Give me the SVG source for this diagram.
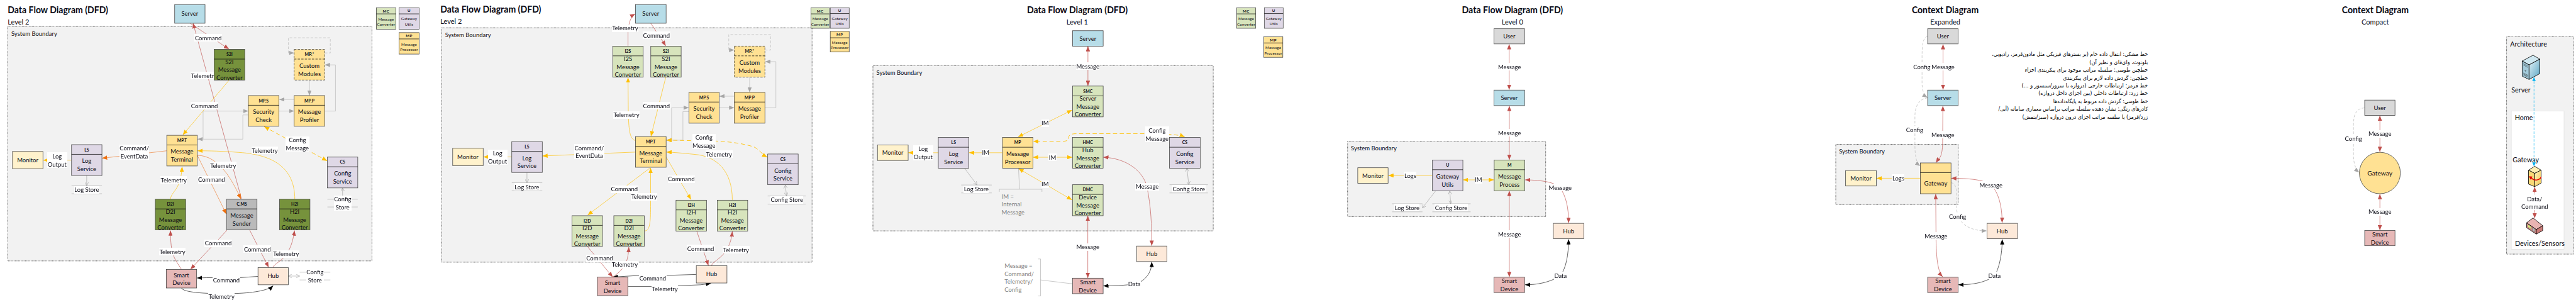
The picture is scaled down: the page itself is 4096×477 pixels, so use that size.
<svg xmlns="http://www.w3.org/2000/svg" width="4096" height="477" viewBox="0 0 4096 477">
<style>
text{font-family:"Lato","Noto Sans",sans-serif;fill:#0a0a14}
.t,.l,.hd,.sm,.smh{text-anchor:middle;dominant-baseline:central}
.t,.l,.n{font-size:18.5px}
.n{dominant-baseline:central}
.hd{font-size:13.5px;font-weight:700}
.sm{font-size:12px;letter-spacing:.4px}
.smh{font-size:12px;font-weight:700;letter-spacing:1px}
.ttl{font-size:30px;font-weight:700;dominant-baseline:central}
.lvl{font-size:21.5px;dominant-baseline:central}
.sb{font-size:18.5px;dominant-baseline:central}
.note{font-size:18.5px;dominant-baseline:central;fill:#7f7f7f}
.bnd{fill:#f2f2f2;stroke:#333;stroke-width:1.6;stroke-dasharray:2.2 2.2}
.b{stroke:#404040;stroke-width:1.5}
.h{stroke:#111;stroke-width:1.5}
.fa{fill:#b7dde8}.fg{fill:#76923c}.fc{fill:#d7e4bc}.fp{fill:#ffe193}.fu{fill:#dfd8e6}.fm{fill:#fff2cc}.fs{fill:#e6b8b7}.fh{fill:#fde9d9}.fq{fill:#bababa}.fd{fill:#d9d9d9}
.st{stroke:#a6a6a6;stroke-width:1.2;fill:none}
.c{fill:none;stroke-width:1.3}
.r{stroke:#c0504d;marker-end:url(#ar)}
.rr{stroke:#c0504d;marker-start:url(#ar);marker-end:url(#ar)}
.rn{stroke:#c0504d}
.y{stroke:#ffc000;marker-end:url(#ay)}
.yy{stroke:#ffc000;marker-start:url(#ay);marker-end:url(#ay)}
.yd{stroke:#ffc000;stroke-dasharray:13 8;stroke-width:1.7;marker-start:url(#ay);marker-end:url(#ay)}
.o{stroke:#ed7d31;marker-end:url(#ao)}
.g{stroke:#bfbfbf;stroke-width:1.5;marker-end:url(#ag)}
.gd{stroke:#bfbfbf;stroke-width:1.5;stroke-dasharray:8 5;marker-end:url(#ag)}
.k{stroke:#111;marker-end:url(#ak)}
.kk{stroke:#111;marker-start:url(#ak);marker-end:url(#ak)}
.s{stroke:#8c8c8c;stroke-width:1;marker-end:url(#av)}
.ss{stroke:#8c8c8c;stroke-width:1;marker-start:url(#av);marker-end:url(#av)}
.br{fill:none;stroke:#a6a6a6;stroke-width:1.2}
.fa2{font-family:"DejaVu Sans",sans-serif;font-size:17px;direction:rtl;text-anchor:start;dominant-baseline:central;fill:#000}
.ic{stroke:#000;stroke-width:1.6;stroke-linejoin:round}
</style>
<defs>
<filter id="w" x="0" y="0" width="1" height="1" color-interpolation-filters="sRGB"><feFlood flood-color="#fff"/><feComposite in="SourceGraphic"/></filter>
<marker id="ar" markerUnits="userSpaceOnUse" markerWidth="17" markerHeight="13" refX="16" refY="6.5" orient="auto-start-reverse"><path d="M0,0L16,6.5L0,13z" fill="#c0504d"/></marker>
<marker id="ay" markerUnits="userSpaceOnUse" markerWidth="17" markerHeight="13" refX="16" refY="6.5" orient="auto-start-reverse"><path d="M0,0L16,6.5L0,13z" fill="#ffc000"/></marker>
<marker id="ao" markerUnits="userSpaceOnUse" markerWidth="17" markerHeight="13" refX="16" refY="6.5" orient="auto-start-reverse"><path d="M0,0L16,6.5L0,13z" fill="#ed7010"/></marker>
<marker id="ag" markerUnits="userSpaceOnUse" markerWidth="17" markerHeight="13" refX="16" refY="6.5" orient="auto-start-reverse"><path d="M0,0L16,6.5L0,13z" fill="#a6a6a6"/></marker>
<marker id="ak" markerUnits="userSpaceOnUse" markerWidth="17" markerHeight="13" refX="16" refY="6.5" orient="auto-start-reverse"><path d="M0,0L16,6.5L0,13z" fill="#000"/></marker>
<marker id="ab" markerUnits="userSpaceOnUse" markerWidth="13" markerHeight="11" refX="12" refY="5.5" orient="auto-start-reverse"><path d="M0,0L12,5.5L0,11z" fill="#00b0f0"/></marker>
<marker id="av" markerUnits="userSpaceOnUse" markerWidth="12" markerHeight="12" refX="11" refY="6" orient="auto-start-reverse"><path d="M0,0L11,6L0,12" fill="none" stroke="#8c8c8c"/></marker>
<linearGradient id="gs" x1="0" y1="0" x2="1" y2="1"><stop offset="0" stop-color="#e4f2f7"/><stop offset="1" stop-color="#5aa6c4"/></linearGradient>
<linearGradient id="gy" x1="0" y1="0" x2="1" y2="1"><stop offset="0" stop-color="#fff3c0"/><stop offset="1" stop-color="#f4c94e"/></linearGradient>
</defs>
<rect width="4096" height="477" fill="#fff"/>
<g transform="scale(0.51341)">

<!-- ============ LEVEL 2 (A) ============ -->
<g id="a-frame">
<text class="ttl" x="24" y="29" textLength="311" lengthAdjust="spacingAndGlyphs">Data Flow Diagram (DFD)</text>
<text class="lvl" x="24" y="67">Level 2</text>
<rect class="bnd" x="24" y="82" width="1128" height="726"/>
<text class="sb" x="35" y="104">System Boundary</text>
</g>
<g id="a-connectors">
<path class="c rn" d="M598,72L748,616" marker-start="url(#ar)"/>
<path class="c r" d="M589,72L709,152"/>
<path class="c y" d="M709,249L566,418"/>
<path class="c g" d="M611,431H629V344H769"/>
<path class="c g" d="M769,356H752V431H612"/>
<path class="c g" d="M911,308H865"/>
<path class="c g" d="M864,344H911"/>
<path class="c g" d="M1006,344H1039V201H1006"/>
<path class="c g" d="M958.5,248V296"/>
<path class="c gd" d="M1006,164H1023V117H893V164H911"/>
<path class="c yd" d="M818,392L1013,498"/>
<path class="c y" d="M913,617C913,530 860,480 740,472C690,468 650,467 612,467"/>
<path class="c o" d="M611,481C680,482 720,560 746,616"/>
<path class="c o" d="M611,481L701,663"/>
<path class="c o" d="M516,467L316,490"/>
<path class="c y" d="M221,496H134"/>
<path class="s" d="M268.5,543V575"/>
<path class="c y" d="M528,616C532,590 560,590 564,516"/>
<path class="c r" d="M562,834C540,800 528,790 528,714"/>
<path class="c r" d="M703,713L590,834"/>
<path class="c r" d="M773.5,713L832,828"/>
<path class="c r" d="M846,828C850,810 900,810 912,714"/>
<path class="c k" d="M799,856L740,860H640L610,861"/>
<path class="c k" d="M562,892C570,910 680,910 720,909C780,908 830,900 846,885"/>
<path class="ss" d="M893,855H928"/>
<path class="ss" d="M1061,582V617"/>
<text class="l" filter="url(#w)" x="645" y="117">Command</text>
<text class="l" filter="url(#w)" x="632" y="234">Telemetry</text>
<text class="l" filter="url(#w)" x="633" y="328">Command</text>
<text class="l" filter="url(#w)" x="921" y="434">Config<tspan x="921" dy="24">Message</tspan></text>
<text class="l" filter="url(#w)" x="820" y="466">Telemetry</text>
<text class="l" filter="url(#w)" x="691" y="513">Telemetry</text>
<text class="l" filter="url(#w)" x="655" y="557">Command</text>
<text class="l" filter="url(#w)" x="416" y="459.5">Command/<tspan x="416" dy="24">EventData</tspan></text>
<text class="l" filter="url(#w)" x="177" y="483.5">Log<tspan x="177" dy="24">Output</tspan></text>
<text class="l" filter="url(#w)" x="538" y="558">Telemetry</text>
<text class="l" filter="url(#w)" x="534" y="780">Telemetry</text>
<text class="l" filter="url(#w)" x="676" y="753">Command</text>
<text class="l" filter="url(#w)" x="797" y="772">Command</text>
<text class="l" filter="url(#w)" x="886" y="786">Telemetry</text>
<text class="l" filter="url(#w)" x="701" y="867">Command</text>
<text class="l" filter="url(#w)" x="686" y="918">Telemetry</text>
</g>
<g id="a-server"><rect class="b fa" x="541" y="14" width="94" height="58"/><text class="t" x="588" y="42">Server</text></g>
<g id="a-s2i"><rect class="b fg" x="663.4" y="153" width="94.6" height="95"/><line class="h" x1="663.4" y1="183" x2="758" y2="183"/><text class="hd" x="710.7" y="167">S2I</text><text class="t" x="710.7" y="191">S2I<tspan x="710.7" dy="24">Message</tspan><tspan x="710.7" dy="24">Converter</tspan></text></g>
<g id="a-mpx"><rect class="b fp" x="911" y="153" width="94.6" height="95" stroke-dasharray="7 4"/><line class="h" x1="911" y1="183" x2="1005.6" y2="183" stroke-dasharray="7 4"/><text class="hd" x="958.3" y="167">MP.*</text><text class="t" x="958.3" y="203">Custom<tspan x="958.3" dy="24">Modules</tspan></text></g>
<g id="a-mps"><rect class="b fp" x="769" y="296" width="95" height="95"/><line class="h" x1="769" y1="326" x2="864" y2="326"/><text class="hd" x="816.5" y="311">MP.S</text><text class="t" x="816.5" y="346.5">Security<tspan x="816.5" dy="24">Check</tspan></text></g>
<g id="a-mpp"><rect class="b fp" x="911" y="296" width="94.6" height="95"/><line class="h" x1="911" y1="326" x2="1005.6" y2="326"/><text class="hd" x="958.3" y="311">MP.P</text><text class="t" x="958.3" y="346.5">Message<tspan x="958.3" dy="24">Profiler</tspan></text></g>
<g id="a-mpt"><rect class="b fp" x="516.5" y="419" width="94.5" height="95"/><line class="h" x1="516.5" y1="449" x2="611" y2="449"/><text class="hd" x="563.7" y="434">MP.T</text><text class="t" x="563.7" y="468.5">Message<tspan x="563.7" dy="24">Terminal</tspan></text></g>
<g id="a-ls"><rect class="b fu" x="221.6" y="448" width="94.1" height="95.5"/><line class="h" x1="221.6" y1="478" x2="315.7" y2="478"/><text class="hd" x="268.6" y="463">LS</text><text class="t" x="268.6" y="498.5">Log<tspan x="268.6" dy="24">Service</tspan></text></g>
<g id="a-monitor"><rect class="b fm" x="38.6" y="469" width="94.4" height="53.5"/><text class="t" x="85.8" y="495.5">Monitor</text></g>
<g id="a-logstore"><path class="st" d="M221.6,575H315.7M221.6,600H315.7"/><text class="l" filter="url(#w)" x="268.6" y="588">Log Store</text></g>
<g id="a-d2i"><rect class="b fg" x="481" y="617" width="94" height="95"/><line class="h" x1="481" y1="647" x2="575" y2="647"/><text class="hd" x="528" y="632">D2I</text><text class="t" x="528" y="655">D2I<tspan x="528" dy="24">Message</tspan><tspan x="528" dy="24">Converter</tspan></text></g>
<g id="a-smart"><rect class="b fs" x="515" y="834.5" width="94" height="57.5"/><text class="t" x="562" y="851.5">Smart<tspan x="562" dy="24">Device</tspan></text></g>
<g id="a-cms"><rect class="b fq" x="701.6" y="617" width="94.4" height="95"/><line class="h" x1="701.6" y1="647" x2="796" y2="647"/><text class="hd" x="748.8" y="632">C.MS</text><text class="t" x="748.8" y="667">Message<tspan x="748.8" dy="24">Sender</tspan></text></g>
<g id="a-h2i"><rect class="b fg" x="865.5" y="617" width="94.5" height="95"/><line class="h" x1="865.5" y1="647" x2="960" y2="647"/><text class="hd" x="912.7" y="632">H2I</text><text class="t" x="912.7" y="655">H2I<tspan x="912.7" dy="24">Message</tspan><tspan x="912.7" dy="24">Converter</tspan></text></g>
<g id="a-cs"><rect class="b fu" x="1014" y="486.5" width="94" height="95.5"/><line class="h" x1="1014" y1="516.5" x2="1108" y2="516.5"/><text class="hd" x="1061" y="501">CS</text><text class="t" x="1061" y="537">Config<tspan x="1061" dy="24">Service</tspan></text></g>
<g id="a-configstore"><path class="st" d="M1014,617H1108M1014,641H1108"/><text class="l" filter="url(#w)" x="1061" y="617">Config<tspan x="1061" dy="24">Store</tspan></text></g>
<g id="a-hub"><rect class="b fh" x="799" y="828.5" width="94" height="53.5"/><text class="t" x="846" y="855">Hub</text></g>
<g id="a-hubstore"><path class="st" d="M928,843H1023M928,867H1023"/><text class="l" filter="url(#w)" x="975.5" y="843">Config<tspan x="975.5" dy="24">Store</tspan></text></g>
<g id="a-leg-mc"><rect class="b fc" x="1165.6" y="24" width="60.4" height="66.6"/><line class="h" x1="1165.6" y1="43" x2="1226" y2="43"/><text class="smh" x="1195.8" y="33.5">MC</text><text class="sm" x="1195.8" y="58.5">Message<tspan x="1195.8" dy="16">Converter</tspan></text></g>
<g id="a-leg-u"><rect class="b fu" x="1236" y="24" width="62" height="66.6"/><line class="h" x1="1236" y1="43" x2="1298" y2="43"/><text class="smh" x="1267" y="33">U</text><text class="sm" x="1267" y="58">Gateway<tspan x="1267" dy="16">Utils</tspan></text></g>
<g id="a-leg-mp"><rect class="b fp" x="1236" y="101" width="62" height="66.6"/><line class="h" x1="1236" y1="120.6" x2="1298" y2="120.6"/><text class="smh" x="1267" y="111">MP</text><text class="sm" x="1267" y="136.5">Message<tspan x="1267" dy="16">Processor</tspan></text></g>

<!-- ============ LEVEL 2 (B) ============ -->
<g id="b-frame">
<text class="ttl" x="1364" y="28" textLength="312" lengthAdjust="spacingAndGlyphs">Data Flow Diagram (DFD)</text>
<text class="lvl" x="1364" y="66">Level 2</text>
<rect class="bnd" x="1368" y="86" width="1147" height="726"/>
<text class="sb" x="1378.5" y="108">System Boundary</text>
</g>
<g id="b-connectors">
<path class="c r" d="M1945,143V100C1946,70 1955,50 1967,43"/>
<path class="c r" d="M2015.5,72L2062,142"/>
<path class="c y" d="M2062,239L2016,422"/>
<path class="c y" d="M1968,435C1950,432 1948,400 1946,360L1945,240"/>
<path class="c y" d="M1968,471L1680,483"/>
<path class="c y" d="M1585,486H1497"/>
<path class="s" d="M1632,534V566"/>
<path class="c y" d="M2014,519.5L1820,666"/>
<path class="c y" d="M1997,715C2012,715 2015,690 2015,640V520"/>
<path class="c y" d="M2063,486L2140,618"/>
<path class="c y" d="M2268,619C2268,530 2220,483 2150,478C2110,474 2090,472 2064,471"/>
<path class="c g" d="M2063,434H2080V333.5H2133"/>
<path class="c g" d="M2133.5,345.5H2115V434H2064"/>
<path class="c g" d="M2274,298H2228"/>
<path class="c g" d="M2228,333.5H2274"/>
<path class="c g" d="M2369,333.5H2403V191H2370"/>
<path class="c g" d="M2321.7,239V286"/>
<path class="c gd" d="M2369,155H2386.7V107H2257V155H2274"/>
<path class="c yd" d="M2064,434L2220,437C2260,439 2300,444 2335,455C2350,462 2360,478 2376,487"/>
<path class="ss" d="M2432,573L2436,607"/>
<path class="c r" d="M1819,763L1897.6,858"/>
<path class="c r" d="M1897.6,858C1930,835 1945,820 1947.5,765"/>
<path class="c r" d="M2158,716L2194,822"/>
<path class="c r" d="M2204,823C2205,805 2260,800 2268,717"/>
<path class="c k" d="M2156,850L2060,853H1980L1898,858"/>
<path class="c k" d="M1945,887H2040L2100,885L2170,882L2202,877.6"/>
<text class="l" filter="url(#w)" x="1936" y="87.6">Telemetry</text>
<text class="l" filter="url(#w)" x="2033" y="110">Command</text>
<text class="l" filter="url(#w)" x="2033" y="327.5">Command</text>
<text class="l" filter="url(#w)" x="1940" y="356">Telemetry</text>
<text class="l" filter="url(#w)" x="1825" y="458">Command/<tspan x="1825" dy="24">EventData</tspan></text>
<text class="l" filter="url(#w)" x="1541" y="474.5">Log<tspan x="1541" dy="24">Output</tspan></text>
<text class="l" filter="url(#w)" x="1933.6" y="586">Command</text>
<text class="l" filter="url(#w)" x="1994.5" y="609">Telemetry</text>
<text class="l" filter="url(#w)" x="2110" y="555">Command</text>
<text class="l" filter="url(#w)" x="2227" y="478">Telemetry</text>
<text class="l" filter="url(#w)" x="2180" y="426.5">Config<tspan x="2180" dy="24">Message</tspan></text>
<text class="l" filter="url(#w)" x="1857" y="800">Command</text>
<text class="l" filter="url(#w)" x="1935" y="820">Telemetry</text>
<text class="l" filter="url(#w)" x="2170" y="770">Command</text>
<text class="l" filter="url(#w)" x="2279.6" y="774">Telemetry</text>
<text class="l" filter="url(#w)" x="2021.6" y="862">Command</text>
<text class="l" filter="url(#w)" x="2059" y="894.5">Telemetry</text>
</g>
<g id="b-server"><rect class="b fa" x="1968" y="14" width="95" height="58"/><text class="t" x="2015.5" y="42">Server</text></g>
<g id="b-monitor"><rect class="b fm" x="1402" y="459" width="94.4" height="54"/><text class="t" x="1449" y="486">Monitor</text></g>
<g id="b-ls"><rect class="b fu" x="1585" y="438.5" width="94.5" height="95.5"/><line class="h" x1="1585" y1="468.5" x2="1679.5" y2="468.5"/><text class="hd" x="1632" y="453.5">LS</text><text class="t" x="1632" y="489">Log<tspan x="1632" dy="24">Service</tspan></text></g>
<g id="b-logstore"><path class="st" d="M1585,566H1679.5M1585,591H1679.5"/><text class="l" filter="url(#w)" x="1632" y="578.5">Log Store</text></g>
<g id="b-i2s"><rect class="b fc" x="1897.6" y="143" width="94.4" height="96"/><line class="h" x1="1897.6" y1="173" x2="1992" y2="173"/><text class="hd" x="1944.8" y="158">I2S</text><text class="t" x="1944.8" y="181.5">I2S<tspan x="1944.8" dy="24">Message</tspan><tspan x="1944.8" dy="24">Converter</tspan></text></g>
<g id="b-s2i"><rect class="b fc" x="2015.5" y="143" width="94.1" height="96"/><line class="h" x1="2015.5" y1="173" x2="2109.6" y2="173"/><text class="hd" x="2062.5" y="158">S2I</text><text class="t" x="2062.5" y="181.5">S2I<tspan x="2062.5" dy="24">Message</tspan><tspan x="2062.5" dy="24">Converter</tspan></text></g>
<g id="b-mpx"><rect class="b fp" x="2274" y="143" width="95" height="96" stroke-dasharray="7 4"/><line class="h" x1="2274" y1="173" x2="2369" y2="173" stroke-dasharray="7 4"/><text class="hd" x="2321.5" y="158">MP.*</text><text class="t" x="2321.5" y="194">Custom<tspan x="2321.5" dy="24">Modules</tspan></text></g>
<g id="b-mps"><rect class="b fp" x="2133.5" y="286" width="94" height="95.5"/><line class="h" x1="2133.5" y1="316" x2="2227.5" y2="316"/><text class="hd" x="2180.5" y="301">MP.S</text><text class="t" x="2180.5" y="336.5">Security<tspan x="2180.5" dy="24">Check</tspan></text></g>
<g id="b-mpp"><rect class="b fp" x="2274" y="286" width="95" height="95.5"/><line class="h" x1="2274" y1="316" x2="2369" y2="316"/><text class="hd" x="2321.5" y="301">MP.P</text><text class="t" x="2321.5" y="336.5">Message<tspan x="2321.5" dy="24">Profiler</tspan></text></g>
<g id="b-mpt"><rect class="b fp" x="1968" y="423" width="95" height="95"/><line class="h" x1="1968" y1="453" x2="2063" y2="453"/><text class="hd" x="2015.5" y="438">MP.T</text><text class="t" x="2015.5" y="473.5">Message<tspan x="2015.5" dy="24">Terminal</tspan></text></g>
<g id="b-i2d"><rect class="b fc" x="1771.4" y="668" width="94.6" height="95"/><line class="h" x1="1771.4" y1="698" x2="1866" y2="698"/><text class="hd" x="1818.7" y="683">I2D</text><text class="t" x="1818.7" y="706">I2D<tspan x="1818.7" dy="24">Message</tspan><tspan x="1818.7" dy="24">Converter</tspan></text></g>
<g id="b-d2i"><rect class="b fc" x="1901" y="668" width="94.6" height="95"/><line class="h" x1="1901" y1="698" x2="1995.6" y2="698"/><text class="hd" x="1948.3" y="683">D2I</text><text class="t" x="1948.3" y="706">D2I<tspan x="1948.3" dy="24">Message</tspan><tspan x="1948.3" dy="24">Converter</tspan></text></g>
<g id="b-i2h"><rect class="b fc" x="2093.6" y="620" width="94.4" height="96"/><line class="h" x1="2093.6" y1="650" x2="2188" y2="650"/><text class="hd" x="2140.8" y="635">I2H</text><text class="t" x="2140.8" y="658">I2H<tspan x="2140.8" dy="24">Message</tspan><tspan x="2140.8" dy="24">Converter</tspan></text></g>
<g id="b-h2i"><rect class="b fc" x="2221.5" y="620" width="94.1" height="96"/><line class="h" x1="2221.5" y1="650" x2="2315.6" y2="650"/><text class="hd" x="2268.5" y="635">H2I</text><text class="t" x="2268.5" y="658">H2I<tspan x="2268.5" dy="24">Message</tspan><tspan x="2268.5" dy="24">Converter</tspan></text></g>
<g id="b-cs"><rect class="b fu" x="2377.6" y="477" width="94.4" height="95"/><line class="h" x1="2377.6" y1="507" x2="2472" y2="507"/><text class="hd" x="2424.8" y="492">CS</text><text class="t" x="2424.8" y="528">Config<tspan x="2424.8" dy="24">Service</tspan></text></g>
<g id="b-configstore"><path class="st" d="M2377.6,607H2495.6M2377.6,632H2495.6"/><text class="l" filter="url(#w)" x="2437" y="619">Config Store</text></g>
<g id="b-smart"><rect class="b fs" x="1850" y="858" width="94.4" height="57.5"/><text class="t" x="1897.2" y="875">Smart<tspan x="1897.2" dy="24">Device</tspan></text></g>
<g id="b-hub"><rect class="b fh" x="2156.5" y="823" width="94.9" height="53.5"/><text class="t" x="2204" y="849">Hub</text></g>
<g id="b-leg-mc"><rect class="b fc" x="2511.6" y="24" width="57.4" height="63.6"/><line class="h" x1="2511.6" y1="43" x2="2569" y2="43"/><text class="smh" x="2540.3" y="33.5">MC</text><text class="sm" x="2540.3" y="57.5">Message<tspan x="2540.3" dy="16">Converter</tspan></text></g>
<g id="b-leg-u"><rect class="b fu" x="2571.4" y="24" width="58.6" height="63.6"/><line class="h" x1="2571.4" y1="42" x2="2630" y2="42"/><text class="smh" x="2600.7" y="33">U</text><text class="sm" x="2600.7" y="56.5">Gateway<tspan x="2600.7" dy="16">Utils</tspan></text></g>
<g id="b-leg-mp"><rect class="b fp" x="2571.4" y="97" width="58.6" height="64"/><line class="h" x1="2571.4" y1="117" x2="2630" y2="117"/><text class="smh" x="2600.7" y="107">MP</text><text class="sm" x="2600.7" y="130.5">Message<tspan x="2600.7" dy="16">Processor</tspan></text></g>

<!-- ============ LEVEL 1 ============ -->
<g id="c-frame">
<text class="ttl" x="3180.6" y="29" textLength="312" lengthAdjust="spacingAndGlyphs">Data Flow Diagram (DFD)</text>
<text class="lvl" x="3336" y="67" text-anchor="middle">Level 1</text>
<rect class="bnd" x="2703.5" y="203" width="1054" height="512"/>
<text class="sb" x="2714.4" y="225">System Boundary</text>
</g>
<g id="c-connectors">
<path class="c rr" d="M3369.4,143V266"/>
<path class="c yy" d="M3320,341L3153,424"/>
<path class="c yy" d="M3199,487H3321"/>
<path class="c yy" d="M3154.4,522L3320,619"/>
<path class="c y" d="M3104,473H3001"/>
<path class="c y" d="M2906,473H2813"/>
<path class="s" d="M2988,522L3026,573"/>
<path class="br" d="M3154.4,522L3157.6,586M3095,594V586H3227V594"/>
<path class="c yd" d="M3669,424C3650,416 3600,414 3560,414H3335C3305,414 3310,425 3310,432C3305,438 3290,438 3280,438H3200"/>
<path class="ss" d="M3676,521L3681.7,572"/>
<path class="c rr" d="M3417,487C3490,490 3540,530 3552,578C3565,640 3567,700 3567,761"/>
<path class="c rr" d="M3369,668V861"/>
<path class="c kk" d="M3567,811C3567,850 3540,875 3513,879C3480,885 3450,885 3417,885.5"/>
<path class="br" d="M3215,802H3222.7V916.6H3215M3222.7,867L3321.5,879"/>
<text class="l" filter="url(#w)" x="3369" y="205">Message</text>
<text class="l" filter="url(#w)" x="3236.7" y="381.5">IM</text>
<text class="l" filter="url(#w)" x="3259.7" y="487">IM</text>
<text class="l" filter="url(#w)" x="3236.7" y="570">IM</text>
<text class="l" filter="url(#w)" x="3052.4" y="473">IM</text>
<text class="l" filter="url(#w)" x="2859" y="461">Log<tspan x="2859" dy="24">Output</tspan></text>
<text class="l" filter="url(#w)" x="3583.6" y="404">Config<tspan x="3583.6" dy="24">Message</tspan></text>
<text class="l" filter="url(#w)" x="3553" y="578">Message</text>
<text class="l" filter="url(#w)" x="3369" y="765">Message</text>
<text class="l" filter="url(#w)" x="3513" y="879">Data</text>
<text class="note" x="3102" y="608">IM =<tspan x="3102" dy="24">Internal</tspan><tspan x="3102" dy="24">Message</tspan></text>
<text class="note" x="3111" y="823.6">Message =<tspan x="3111" dy="24">Command/</tspan><tspan x="3111" dy="24">Telemetry/</tspan><tspan x="3111" dy="24">Config</tspan></text>
</g>
<g id="c-server"><rect class="b fa" x="3322" y="95" width="94.6" height="48"/><text class="t" x="3369.3" y="119">Server</text></g>
<g id="c-smc"><rect class="b fc" x="3322" y="266.5" width="94.6" height="95.5"/><line class="h" x1="3322" y1="297" x2="3416.6" y2="297"/><text class="hd" x="3369.3" y="281.5">SMC</text><text class="t" x="3369.3" y="305">Server<tspan x="3369.3" dy="24">Message</tspan><tspan x="3369.3" dy="24">Converter</tspan></text></g>
<g id="c-hmc"><rect class="b fc" x="3321.5" y="425.5" width="95" height="95.5"/><line class="h" x1="3321.5" y1="456" x2="3416.5" y2="456"/><text class="hd" x="3369" y="440.5">HMC</text><text class="t" x="3369" y="464">Hub<tspan x="3369" dy="24">Message</tspan><tspan x="3369" dy="24">Converter</tspan></text></g>
<g id="c-dmc"><rect class="b fc" x="3321.5" y="572" width="95" height="96"/><line class="h" x1="3321.5" y1="602" x2="3416.5" y2="602"/><text class="hd" x="3369" y="587">DMC</text><text class="t" x="3369" y="611">Device<tspan x="3369" dy="24">Message</tspan><tspan x="3369" dy="24">Converter</tspan></text></g>
<g id="c-mp"><rect class="b fp" x="3104.7" y="425.5" width="94.3" height="95.5"/><line class="h" x1="3104.7" y1="456" x2="3199" y2="456"/><text class="hd" x="3151.8" y="440.5">MP</text><text class="t" x="3151.8" y="476">Message<tspan x="3151.8" dy="24">Processor</tspan></text></g>
<g id="c-ls"><rect class="b fu" x="2906" y="425.5" width="94.7" height="95.5"/><line class="h" x1="2906" y1="456" x2="3000.7" y2="456"/><text class="hd" x="2953.3" y="440.5">LS</text><text class="t" x="2953.3" y="476">Log<tspan x="2953.3" dy="24">Service</tspan></text></g>
<g id="c-monitor"><rect class="b fm" x="2717.6" y="449" width="95" height="48"/><text class="t" x="2765" y="473">Monitor</text></g>
<g id="c-logstore"><path class="st" d="M2977,573H3071.5M2977,597.5H3071.5"/><text class="l" filter="url(#w)" x="3023.7" y="585.5">Log Store</text></g>
<g id="c-cs"><rect class="b fu" x="3622" y="425.5" width="95" height="95.5"/><line class="h" x1="3622" y1="456" x2="3717" y2="456"/><text class="hd" x="3669.5" y="440.5">CS</text><text class="t" x="3669.5" y="476">Config<tspan x="3669.5" dy="24">Service</tspan></text></g>
<g id="c-configstore"><path class="st" d="M3622,572H3741M3622,597.5H3741"/><text class="l" filter="url(#w)" x="3681.7" y="585">Config Store</text></g>
<g id="c-hub"><rect class="b fh" x="3520" y="762" width="94" height="48"/><text class="t" x="3567" y="786">Hub</text></g>
<g id="c-smart"><rect class="b fs" x="3321.5" y="861.5" width="95" height="48"/><text class="t" x="3369" y="874">Smart<tspan x="3369" dy="24">Device</tspan></text></g>
<g id="c-leg-mc"><rect class="b fc" x="3830" y="24" width="59" height="63.6"/><line class="h" x1="3830" y1="43" x2="3889" y2="43"/><text class="smh" x="3859.5" y="33.5">MC</text><text class="sm" x="3859.5" y="57.5">Message<tspan x="3859.5" dy="16">Converter</tspan></text></g>
<g id="c-leg-u"><rect class="b fu" x="3915.6" y="24" width="58.4" height="63.6"/><line class="h" x1="3915.6" y1="42" x2="3974" y2="42"/><text class="smh" x="3944.8" y="33">U</text><text class="sm" x="3944.8" y="56.5">Gateway<tspan x="3944.8" dy="16">Utils</tspan></text></g>
<g id="c-leg-mp"><rect class="b fp" x="3914" y="114" width="59" height="63.6"/><line class="h" x1="3914" y1="133" x2="3973" y2="133"/><text class="smh" x="3943.5" y="123.5">MP</text><text class="sm" x="3943.5" y="147.5">Message<tspan x="3943.5" dy="16">Processor</tspan></text></g>

<!-- ============ LEVEL 0 ============ -->
<g id="d-frame">
<text class="ttl" x="4527.7" y="29" textLength="313" lengthAdjust="spacingAndGlyphs">Data Flow Diagram (DFD)</text>
<text class="lvl" x="4684" y="67" text-anchor="middle">Level 0</text>
<rect class="bnd" x="4173.5" y="438.5" width="613.5" height="232.2"/>
<text class="sb" x="4184" y="459.5">System Boundary</text>
</g>
<g id="d-connectors">
<path class="c rr" d="M4674,137V278"/>
<path class="c rr" d="M4674.4,328V495"/>
<path class="c rr" d="M4674.4,591V858"/>
<path class="c rr" d="M4723.5,557C4780,558 4815,565 4832,581C4850,610 4858,640 4858,690.5"/>
<path class="c y" d="M4436,543.5H4300"/>
<path class="c yy" d="M4531,557H4627"/>
<path class="s" d="M4446,591.5L4405.5,643.7"/>
<path class="ss" d="M4490,591.5L4493,631"/>
<path class="c kk" d="M4858,741C4858,790 4850,830 4833,853.6C4800,875 4760,882 4723,882"/>
<text class="l" filter="url(#w)" x="4675" y="207">Message</text>
<text class="l" filter="url(#w)" x="4675" y="411.5">Message</text>
<text class="l" filter="url(#w)" x="4675" y="725">Message</text>
<text class="l" filter="url(#w)" x="4832" y="581">Message</text>
<text class="l" filter="url(#w)" x="4367.6" y="543.5">Logs</text>
<text class="l" filter="url(#w)" x="4579" y="557">IM</text>
<text class="l" filter="url(#w)" x="4833" y="853.6">Data</text>
</g>
<g id="d-user"><rect class="b fd" x="4627" y="89" width="94.8" height="47"/><text class="t" x="4674.4" y="112">User</text></g>
<g id="d-server"><rect class="b fa" x="4627" y="279" width="94.8" height="48"/><text class="t" x="4674.4" y="303">Server</text></g>
<g id="d-m"><rect class="b fc" x="4627.6" y="495.5" width="94.7" height="95.5"/><line class="h" x1="4627.6" y1="525.5" x2="4722.3" y2="525.5"/><text class="hd" x="4675" y="511">M</text><text class="t" x="4675" y="546">Message<tspan x="4675" dy="24">Process</tspan></text></g>
<g id="d-u"><rect class="b fu" x="4436.4" y="495.5" width="94.2" height="95.5"/><line class="h" x1="4436.4" y1="525.5" x2="4530.6" y2="525.5"/><text class="hd" x="4483.5" y="511">U</text><text class="t" x="4483.5" y="546">Gateway<tspan x="4483.5" dy="24">Utils</tspan></text></g>
<g id="d-monitor"><rect class="b fm" x="4205" y="519.5" width="94" height="48"/><text class="t" x="4252" y="543.5">Monitor</text></g>
<g id="d-logstore"><path class="st" d="M4311.3,631H4405.5M4311.3,656H4405.5"/><text class="l" filter="url(#w)" x="4357.8" y="643.5">Log Store</text></g>
<g id="d-configstore"><path class="st" d="M4436,631H4554.7M4436,656H4554.7"/><text class="l" filter="url(#w)" x="4494.4" y="643.5">Config Store</text></g>
<g id="d-hub"><rect class="b fh" x="4810.7" y="691.7" width="94.3" height="47.3"/><text class="t" x="4858" y="715">Hub</text></g>
<g id="d-smart"><rect class="b fs" x="4627" y="858.5" width="94.8" height="47.5"/><text class="t" x="4674.4" y="870">Smart<tspan x="4674.4" dy="24">Device</tspan></text></g>

<!-- ============ CONTEXT EXPANDED ============ -->
<g id="e-frame">
<text class="ttl" x="5921" y="29" textLength="207" lengthAdjust="spacingAndGlyphs">Context Diagram</text>
<text class="lvl" x="6024.7" y="67" text-anchor="middle">Expanded</text>
<rect class="bnd" x="5685.5" y="447" width="379.1" height="186.5"/>
<text class="sb" x="5695.5" y="468.5">System Boundary</text>
</g>
<g id="e-connectors">
<path class="c rr" d="M6017.7,137V278"/>
<path class="c gd" d="M5970,113C5955,115 5952.7,140 5952.7,180V258C5953,280 5958,295 5969.6,302"/>
<path class="c gd" d="M5970,303C5945,306 5931,325 5930.6,360V450C5931,485 5935,505 5947,514"/>
<path class="c rr" d="M5995.6,504C6005,490 6016,490 6016.4,440L6017.3,328"/>
<path class="c y" d="M5947,552H5812"/>
<path class="c rr" d="M6043,552C6100,553 6140,555 6166,573C6190,595 6200.7,640 6200.7,690"/>
<path class="c gd" d="M6042.4,566C6055,567 6060,580 6060,610V650C6065,690 6095,715 6153,715"/>
<path class="c rr" d="M5995,601L5996,744C5997,790 6000,840 6016.4,857"/>
<path class="c kk" d="M6201,741C6201,790 6190,835 6177,854C6150,875 6110,882 6065.4,882"/>
<text class="l" filter="url(#w)" x="6017.7" y="207">Message</text>
<text class="l" filter="url(#w)" x="5952" y="207">Config</text>
<text class="l" filter="url(#w)" x="5929.7" y="402">Config</text>
<text class="l" filter="url(#w)" x="6017" y="417.5">Message</text>
<text class="l" filter="url(#w)" x="5879" y="552">Logs</text>
<text class="l" filter="url(#w)" x="6166" y="573">Message</text>
<text class="l" filter="url(#w)" x="6062.8" y="670.7">Config</text>
<text class="l" filter="url(#w)" x="5996" y="730.7">Message</text>
<text class="l" filter="url(#w)" x="6177" y="854">Data</text>
</g>
<g id="e-user"><rect class="b fd" x="5970" y="89" width="94.6" height="47"/><text class="t" x="6017.3" y="112">User</text></g>
<g id="e-server"><rect class="b fa" x="5970" y="279" width="94.6" height="48"/><text class="t" x="6017.3" y="303">Server</text></g>
<g id="e-gateway"><rect class="b fp" x="5947.5" y="504.5" width="94.9" height="95.5"/><line class="h" x1="5947.5" y1="534.5" x2="6042.4" y2="534.5"/><text class="t" x="5995" y="567">Gateway</text></g>
<g id="e-monitor"><rect class="b fm" x="5716" y="528" width="95" height="48"/><text class="t" x="5763.5" y="552">Monitor</text></g>
<g id="e-hub"><rect class="b fh" x="6154" y="691.7" width="94.4" height="47.3"/><text class="t" x="6201" y="715">Hub</text></g>
<g id="e-smart"><rect class="b fs" x="5970" y="858.5" width="94.6" height="47.5"/><text class="t" x="6017.3" y="870">Smart<tspan x="6017.3" dy="24">Device</tspan></text></g>

<!-- ============ LEGEND TEXT ============ -->
<g id="persian-notes">
<text class="fa2" x="6652" y="168" textLength="483" lengthAdjust="spacingAndGlyphs">خط مشکی: انتقال داده خام (بر بسترهای فیزیکی مثل مادون‌قرمز، رادیویی،</text>
<text class="fa2" x="6652" y="193" textLength="181" lengthAdjust="spacingAndGlyphs">بلوتوث، وای‌فای و نظیر آن)</text>
<text class="fa2" x="6652" y="217" textLength="381" lengthAdjust="spacingAndGlyphs">خطچین طوسی: سلسله مراتب موجود برای پیکربندی اجزاء</text>
<text class="fa2" x="6652" y="241" textLength="263" lengthAdjust="spacingAndGlyphs">خطچین: گردش داده لازم برای پیکربندی</text>
<text class="fa2" x="6652" y="265" textLength="391" lengthAdjust="spacingAndGlyphs">خط قرمز: ارتباطات خارجی (دروازه با سرور/سنسور و ...)</text>
<text class="fa2" x="6652" y="288" textLength="339" lengthAdjust="spacingAndGlyphs">خط زرد: ارتباطات داخلی (بین اجزای داخل دروازه)</text>
<text class="fa2" x="6652" y="313" textLength="293" lengthAdjust="spacingAndGlyphs">خط طوسی: گردش داده مربوط به پایگاه‌داده‌ها</text>
<text class="fa2" x="6652" y="337" textLength="463" lengthAdjust="spacingAndGlyphs">کادرهای رنگی: نشان دهنده سلسله مراتب براساس معماری سامانه (آبی/</text>
<text class="fa2" x="6652" y="362" textLength="389" lengthAdjust="spacingAndGlyphs">زرد/قرمز) یا سلسه مراتب اجزای درون دروازه (سبز/بنفش)</text>
</g>

<!-- ============ CONTEXT COMPACT ============ -->
<g id="f-frame">
<text class="ttl" x="7253" y="29" textLength="207" lengthAdjust="spacingAndGlyphs">Context Diagram</text>
<text class="lvl" x="7356.3" y="67" text-anchor="middle">Compact</text>
</g>
<g id="f-connectors">
<path class="c rr" d="M7370.7,358V470.5"/>
<path class="c rr" d="M7370.7,601V713"/>
<path class="c gd" d="M7323,334C7300,336 7289,350 7289,385V480C7289,505 7295,525 7306.7,534"/>
<text class="l" filter="url(#w)" x="7370.7" y="414.5">Message</text>
<text class="l" filter="url(#w)" x="7370.7" y="656">Message</text>
<text class="l" filter="url(#w)" x="7288.8" y="429.5">Config</text>
</g>
<g id="f-user"><rect class="b fd" x="7323.6" y="310" width="93.8" height="47.5"/><text class="t" x="7370.5" y="333.5">User</text></g>
<g id="f-gateway"><ellipse class="b fp" cx="7370.6" cy="535.8" rx="63.5" ry="64.2"/><text class="t" x="7370.6" y="536" style="font-size:20px">Gateway</text></g>
<g id="f-smart"><rect class="b fs" x="7323.6" y="714" width="93.8" height="47"/><text class="t" x="7370.5" y="725.5">Smart<tspan x="7370.5" dy="24">Device</tspan></text></g>

<!-- ============ ARCHITECTURE ============ -->
<g id="architecture">
<rect class="bnd" x="7763" y="114" width="207" height="673"/>
<text class="sb" x="7774" y="135" style="font-size:21px">Architecture</text>
<rect x="7777.7" y="344" width="163.3" height="428" fill="#fff" stroke="#ddd" stroke-width="1.2"/>
<text class="sb" x="7788.6" y="364" style="font-size:21px">Home</text>
<text class="sb" x="7778" y="278" style="font-size:21px">Server</text>
<text class="sb" x="7782" y="493" style="font-size:21px">Gateway</text>
<text class="sb" x="7789" y="753.5" style="font-size:21px">Devices/Sensors</text>
<path fill="none" stroke="#00b0f0" stroke-width="1.3" stroke-dasharray="8 4" marker-start="url(#ab)" marker-end="url(#ab)" d="M7848,239V515"/>
<g id="icon-server">
<path class="ic" fill="#cfe8f1" d="M7811.4,189L7845,171L7866,183L7832.7,201z"/>
<path class="ic" fill="#a3cbdb" d="M7811.4,189L7832.7,201V246L7811.4,236z"/>
<path class="ic" fill="url(#gs)" d="M7832.7,201L7866,183V228L7832.7,246z"/>
<path stroke="#222" stroke-width="1" fill="none" d="M7815,197L7829,205M7815,201L7829,209M7815,226L7829,233M7815,229L7829,236M7815,232L7829,239"/>
<circle cx="7821.5" cy="219" r="1.6" fill="none" stroke="#222"/>
</g>
<g id="icon-gateway">
<path class="ic" fill="#fff0b3" d="M7831,527L7850,515L7870,527L7850,537z"/>
<path class="ic" fill="#f9d977" d="M7831,527L7850,537V578L7831,570z"/>
<path class="ic" fill="url(#gy)" d="M7850,537L7870,527V567L7850,578z"/>
<path fill="none" stroke="#e00000" stroke-width="3" d="M7870,548C7866,560 7846,560 7840,551"/>
<path fill="#e00000" d="M7832,546L7843,547L7838,557z"/>
</g>
<path fill="none" stroke="#c0504d" stroke-width="1.5" stroke-dasharray="8 4" marker-start="url(#ar)" marker-end="url(#ar)" d="M7850,579V676"/>
<text class="l" filter="url(#w)" x="7850" y="615.5">Data/<tspan x="7850" dy="24">Command</tspan></text>
<g id="icon-device">
<path class="ic" fill="#e8b4b2" d="M7825,690L7845,675L7875,699L7855,711z"/>
<path class="ic" fill="#d98f8c" d="M7825,690L7855,711V725L7825,705z"/>
<path class="ic" fill="#c97a76" d="M7855,711L7875,699V714L7855,725z"/>
<path fill="#d8e87a" stroke="#555" stroke-width=".7" d="M7829,695L7839,702V710L7829,703z"/>
<path fill="#bbb" stroke="#333" stroke-width=".7" d="M7843,704L7851,709V719L7843,714z"/>
</g>
</g>
</g>
</svg>
